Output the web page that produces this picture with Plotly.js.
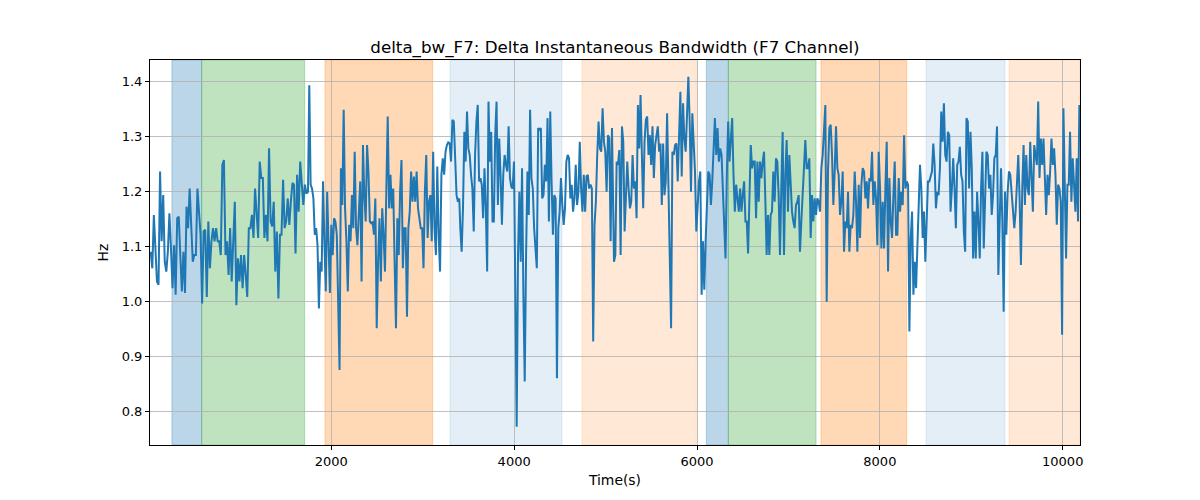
<!DOCTYPE html>
<html>
<head>
<meta charset="utf-8">
<script src="https://cdn.plot.ly/plotly-3.0.1.min.js"></script>
<style>
    body { margin: 0; background: #fff; }
    #canvas { width: 1200px; height: 500px; }
</style>
</head>
<body>
<div id="canvas"></div>
<script>
// signal in six stretches; each stretch is [start, end] seconds
const seg1_span = [25, 1745];
const seg1 = [1.090, 1.060, 1.157, 1.084, 1.036, 1.030, 1.236, 1.109, 1.193, 1.072, 1.054, 1.090, 1.160, 1.096, 1.024, 1.102,
    1.012, 1.151, 1.154, 1.084, 1.018, 1.090, 1.015, 1.172, 1.133, 1.205, 1.151, 1.072, 1.084, 1.084, 1.205, 1.163,
    1.121, 0.996, 1.127, 1.130, 1.008, 1.145, 1.060, 1.109, 1.133, 1.109, 1.133, 1.109, 1.109, 1.084, 1.248, 1.257,
    1.084, 1.109, 1.048, 1.133, 1.036, 1.109, 1.181, 0.993, 1.078, 1.036, 1.084, 1.024, 1.084, 1.048, 1.008, 1.133,
    1.133, 1.157, 1.115, 1.205, 1.157, 1.115, 1.254, 1.224, 1.224, 1.115, 1.157, 1.109, 1.278, 1.145, 1.136, 1.181,
    1.054, 1.127, 1.005, 1.121, 1.121, 1.221, 1.133, 1.145, 1.187, 1.139, 1.181, 1.215, 1.212, 1.087, 1.230, 1.163,
    1.254, 1.205, 1.175, 1.212, 1.196, 1.199];

const seg2_span = [1759, 3400];
const seg2 = [1.393, 1.212, 1.205, 1.187, 1.121, 1.133, 1.102, 0.987, 1.072, 1.054, 1.218, 1.109, 1.018, 1.199, 1.096, 1.015,
    1.139, 1.084, 1.151, 1.145, 1.121, 1.024, 0.875, 1.242, 1.175, 1.348, 1.169, 1.109, 1.018, 1.139, 1.109, 1.193,
    1.133, 1.272, 1.133, 1.102, 1.151, 1.218, 1.036, 1.284, 1.193, 1.145, 1.284, 1.236, 1.145, 1.142, 1.145, 1.121,
    1.187, 0.951, 1.072, 1.151, 1.036, 1.169, 1.121, 1.054, 1.205, 1.336, 1.169, 1.230, 1.169, 1.205, 1.072, 0.951,
    1.151, 1.084, 1.199, 1.257, 1.060, 1.133, 1.133, 0.972, 1.133, 1.163, 1.236, 1.181, 1.227, 1.181, 1.236, 1.169,
    1.151, 1.133, 1.133, 1.060, 1.199, 1.266, 1.115, 1.181, 1.193, 1.109, 1.272, 1.133, 1.084, 1.245, 1.121, 1.054,
    1.230, 1.260, 1.230, 1.272, 1.284, 1.289, 1.287, 1.254, 1.330, 1.327, 1.260, 1.193, 1.181, 1.187];

const seg3_span = [3411, 5070];
const seg3 = [1.133, 1.090, 1.169, 1.308, 1.254, 1.345, 1.278, 1.266, 1.230, 1.205, 1.127, 1.266, 1.327, 1.357, 1.218, 1.224,
    1.212, 1.151, 1.242, 1.169, 1.054, 1.363, 1.254, 1.308, 1.145, 1.145, 1.302, 1.363, 1.175, 1.296, 1.230, 1.139,
    1.230, 1.266, 1.248, 1.236, 1.318, 1.224, 1.208, 1.205, 1.254, 1.012, 0.772, 1.084, 1.199, 1.072, 1.242, 1.012,
    0.854, 1.084, 1.236, 1.157, 1.348, 1.224, 1.205, 1.133, 1.084, 1.060, 1.315, 1.312, 1.315, 1.187, 1.193, 1.248,
    1.218, 1.333, 1.145, 1.345, 1.218, 1.121, 1.193, 1.187, 0.860, 1.133, 1.163, 1.224, 1.175, 1.139, 1.169, 1.254,
    1.266, 1.260, 1.187, 1.212, 1.163, 1.187, 1.248, 1.175, 1.199, 1.290, 1.205, 1.163, 1.230, 1.163, 1.227, 1.230,
    1.205, 1.212, 1.205, 0.927, 1.139, 1.181, 1.266, 1.327, 1.278, 1.272, 1.351, 1.290, 1.272, 1.199, 1.302, 1.296,
    1.109, 1.315];

const seg4_span = [5092, 6733];
const seg4 = [1.072, 1.084, 1.254, 1.248, 1.275, 1.084, 1.318, 1.290, 1.127, 1.205, 1.254, 1.205, 1.169, 1.181, 1.266, 1.205,
    1.218, 1.151, 1.357, 1.278, 1.375, 1.266, 1.169, 1.290, 1.330, 1.336, 1.266, 1.302, 1.248, 1.318, 1.224, 1.284,
    1.305, 1.318, 1.272, 1.287, 1.175, 1.287, 1.193, 1.218, 1.342, 1.193, 1.084, 0.951, 1.272, 1.266, 1.284, 1.287,
    1.218, 1.296, 1.381, 1.227, 1.360, 1.296, 1.272, 1.339, 1.408, 1.327, 1.199, 1.342, 1.284, 1.236, 1.127, 1.169,
    1.218, 1.236, 1.012, 1.109, 1.021, 1.109, 1.175, 1.236, 1.230, 1.175, 1.218, 1.266, 1.333, 1.266, 1.315, 1.254,
    1.278, 1.266, 1.212, 1.139, 1.078, 1.230, 1.327, 1.254, 1.296, 1.333, 1.230, 1.163, 1.212, 1.187, 1.163, 1.205,
    1.163, 1.193, 1.218, 1.145, 1.145, 1.087, 1.175, 1.284, 1.242, 1.254, 1.254, 1.151, 1.254, 1.181, 1.254, 1.224,
    1.254, 1.272];

const seg5_span = [6747, 8396];
const seg5 = [1.187, 1.084, 1.157, 1.084, 1.157, 1.163, 1.236, 1.181, 1.260, 1.254, 1.193, 1.084, 1.205, 1.308, 1.084, 1.230,
    1.293, 1.163, 1.266, 1.205, 1.163, 1.145, 1.133, 1.175, 1.181, 1.193, 1.090, 1.145, 1.193, 1.248, 1.293, 1.242,
    1.242, 1.260, 1.115, 1.193, 1.145, 1.187, 1.157, 1.187, 1.181, 1.163, 1.242, 1.266, 1.302, 1.357, 0.999, 1.236,
    1.315, 1.321, 1.266, 1.175, 1.236, 1.318, 1.242, 1.230, 1.157, 1.181, 1.236, 1.090, 1.145, 1.133, 1.199, 1.090,
    1.139, 1.133, 1.157, 1.236, 1.181, 1.090, 1.212, 1.115, 1.212, 1.242, 1.236, 1.187, 1.218, 1.169, 1.224, 1.218,
    1.272, 1.175, 1.218, 1.187, 1.102, 1.272, 1.205, 1.096, 1.181, 1.096, 1.205, 1.290, 1.054, 1.224, 1.145, 1.115,
    1.193, 1.254, 1.121, 1.121, 1.224, 1.163, 1.199, 1.175, 1.302, 1.205, 1.218, 1.212, 0.945, 1.115, 1.163, 1.012,
    1.072, 1.024];

const seg6_span = [8439, 10182];
const seg6 = [1.248, 1.205, 1.115, 1.163, 1.072, 1.145, 1.218, 1.218, 1.230, 1.236, 1.287, 1.248, 1.169, 1.199, 1.193, 1.242,
    1.345, 1.290, 1.360, 1.266, 1.254, 1.308, 1.302, 1.163, 1.205, 1.260, 1.205, 1.133, 1.248, 1.254, 1.281, 1.230,
    1.218, 1.127, 1.090, 1.333, 1.327, 1.205, 1.308, 1.242, 1.078, 1.163, 1.078, 1.199, 1.145, 1.078, 1.205, 1.272,
    1.096, 1.175, 1.272, 1.266, 1.205, 1.230, 1.157, 1.193, 1.260, 1.266, 1.318, 1.048, 1.133, 1.242, 1.145, 0.981,
    1.199, 1.121, 1.199, 1.236, 1.230, 1.199, 1.175, 1.133, 1.163, 1.212, 1.266, 1.187, 1.066, 1.205, 1.284, 1.175,
    1.266, 1.205, 1.193, 1.290, 1.212, 1.163, 1.284, 1.266, 1.248, 1.363, 1.224, 1.296, 1.248, 1.296, 1.230, 1.157,
    1.230, 1.193, 1.236, 1.296, 1.248, 1.278, 1.230, 1.139, 1.212, 1.205, 1.181, 0.939, 1.351, 1.236, 1.078, 1.212,
    1.212, 1.308, 1.181, 1.260, 1.212, 1.163, 1.260, 1.145, 1.357];

// shaded phases: start, end (s) and kind
const span_starts = [257, 582, 1931, 3298, 4742, 6102, 6343, 7356, 8505, 9413];
const span_ends = [582, 1709, 3109, 4523, 5993, 6343, 7302, 8294, 9369, 10189];
const span_kinds = ["blue", "green", "orange", "paleblue", "paleorange", "blue", "green", "orange", "paleblue", "paleorange"];

const span_colors = {
    blue: "rgba(31,119,180,0.3)",
    green: "rgba(44,160,44,0.3)",
    orange: "rgba(255,127,14,0.3)",
    paleblue: "rgba(31,119,180,0.12)",
    paleorange: "rgba(255,127,14,0.17)",
};

// spread each stretch evenly over its own time window
function stretch(span, vals) {
    let step = (span[1] - span[0]) / (vals.length - 1);
    return vals.map((_, i) => span[0] + i * step);
}

let segs = [[seg1_span, seg1], [seg2_span, seg2], [seg3_span, seg3], [seg4_span, seg4], [seg5_span, seg5], [seg6_span, seg6]];
let bw_times = [];
let bw_vals = [];
segs.forEach(([span, vals]) => {
    bw_times = bw_times.concat(stretch(span, vals));
    bw_vals = bw_vals.concat(vals);
});

let shapes = span_starts.map((x0, i) => ({
    type: "rect",
    xref: "x",
    yref: "paper",
    x0: x0,
    x1: span_ends[i],
    y0: 0,
    y1: 1,
    fillcolor: span_colors[span_kinds[i]],
    line: { color: span_colors[span_kinds[i]], width: 1 },
    layer: "below",
}));

const font = "DejaVu Sans, sans-serif";

let data = [{
    x: bw_times,
    y: bw_vals,
    mode: "lines",
    line: { color: "#1f77b4", width: 2 },
    hoverinfo: "x+y",
}];

let axisCommon = {
    showline: true,
    linecolor: "#000",
    linewidth: 1,
    mirror: true,
    ticks: "outside",
    ticklen: 4,
    tickwidth: 1,
    tickcolor: "#000",
    showgrid: true,
    gridcolor: "#b0b0b0",
    gridwidth: 0.8,
    zeroline: false,
    tickfont: { family: font, size: 13, color: "#000" },
};

let layout = {
    width: 1200,
    height: 500,
    margin: { l: 150, r: 120, t: 60, b: 55 },
    paper_bgcolor: "#fff",
    plot_bgcolor: "#fff",
    showlegend: false,
    title: {
        text: "delta_bw_F7: Delta Instantaneous Bandwidth (F7 Channel)",
        font: { family: font, size: 16.7, color: "#000" },
        x: 0.5125,
        xanchor: "center",
        y: 0.895,
        yanchor: "bottom",
    },
    xaxis: Object.assign({}, axisCommon, {
        range: [17, 10189],
        tickvals: [2000, 4000, 6000, 8000, 10000],
        ticktext: ["2000", "4000", "6000", "8000", "10000"],
        title: { text: "Time(s)", font: { family: font, size: 13.9, color: "#000" }, standoff: 7 },
    }),
    yaxis: Object.assign({}, axisCommon, {
        range: [0.7387, 1.4387],
        tickvals: [0.8, 0.9, 1.0, 1.1, 1.2, 1.3, 1.4],
        tickformat: ".1f",
        title: { text: "Hz", font: { family: font, size: 13.9, color: "#000" }, standoff: 9 },
    }),
    shapes: shapes,
};

Plotly.newPlot("canvas", data, layout, { displayModeBar: false, staticPlot: true });
</script>
</body>
</html>
